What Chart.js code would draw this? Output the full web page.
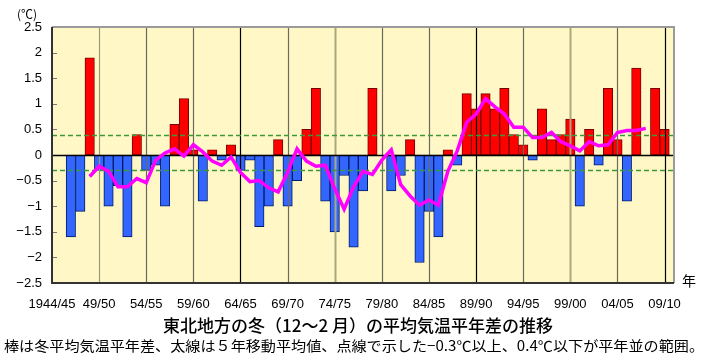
<!DOCTYPE html>
<html><head><meta charset="utf-8">
<script src="https://cdn.jsdelivr.net/npm/chart.js@4.4.0/dist/chart.umd.min.js"></script>
<style>html,body{margin:0;padding:0;background:#fff}#wrap{width:710px;height:360px;position:relative}</style>
</head><body><div id="wrap"><canvas id="c" width="710" height="360"></canvas></div>
<script>
// Winter seasons (Dec-Feb), category axis
const seasons = [
 "1944/45","1945/46","1946/47","1947/48","1948/49","1949/50","1950/51","1951/52","1952/53","1953/54",
 "1954/55","1955/56","1956/57","1957/58","1958/59","1959/60","1960/61","1961/62","1962/63","1963/64",
 "1964/65","1965/66","1966/67","1967/68","1968/69","1969/70","1970/71","1971/72","1972/73","1973/74",
 "1974/75","1975/76","1976/77","1977/78","1978/79","1979/80","1980/81","1981/82","1982/83","1983/84",
 "1984/85","1985/86","1986/87","1987/88","1988/89","1989/90","1990/91","1991/92","1992/93","1993/94",
 "1994/95","1995/96","1996/97","1997/98","1998/99","1999/00","2000/01","2001/02","2002/03","2003/04",
 "2004/05","2005/06","2006/07","2007/08","2008/09","2009/10","2010/11"
];
// Winter mean temperature anomaly (°C)
const anomaly = [
 null, null, -1.6, -1.1, 1.9, -0.3, -1.0, -0.6, -1.6, 0.4,
 -0.3, -0.2, -1.0, 0.6, 1.1, 0.1, -0.9, 0.1, -0.1, 0.2,
 -0.3, -0.1, -1.4, -1.0, 0.3, -1.0, -0.5, 0.5, 1.3, -0.9,
 -1.5, -0.4, -1.8, -0.7, 1.3, 0.0, -0.7, -0.4, 0.3, -2.1,
 -1.1, -1.6, 0.1, -0.2, 1.2, 0.9, 1.2, 0.9, 1.3, 0.4,
 0.2, -0.1, 0.9, 0.3, 0.4, 0.7, -1.0, 0.5, -0.2, 1.3,
 0.3, -0.9, 1.7, 0.0, 1.3, 0.5, null
];
// 5-year moving average (thick line)
const movingAvg5 = [
 null, null, null, null, -0.42, -0.22, -0.32, -0.62, -0.62, -0.46,
 -0.54, -0.10, 0.04, 0.12, -0.02, 0.20, 0.06, -0.12, -0.20, -0.04,
 -0.34, -0.52, -0.50, -0.64, -0.72, -0.34, 0.12, -0.12, -0.22, -0.20,
 -0.66, -1.06, -0.62, -0.32, -0.38, -0.10, 0.10, -0.58, -0.80, -0.98,
 -0.88, -0.98, -0.32, 0.08, 0.64, 0.80, 1.10, 0.94, 0.80, 0.54,
 0.54, 0.34, 0.34, 0.44, 0.26, 0.18, 0.08, 0.26, 0.18, 0.20,
 0.44, 0.48, 0.48, 0.52, null, null, null
];
const normalRange = [-0.3, 0.4];
const yTickValues = [2.5, 2, 1.5, 1, 0.5, 0, -0.5, -1, -1.5, -2, -2.5];
const labelStep = 5;
const titleText = "東北地方の冬（12～2 月）の平均気温平年差の推移";
const noteText = "棒は冬平均気温平年差、太線は５年移動平均値、点線で示した−0.3℃以上、0.4℃以下が平年並の範囲。";
const unitText = "(℃)";
const yearText = "年";

const gridStyle = function(i){
  if (i === 20 || i === 45 || i === 65) return ['#000000', 1.2];
  if (i === 30 || i === 55) return ['#a9a97f', 2];
  if (i === 5) return ['#9a9a7a', 1.2];
  return ['#6a6a60', 1.2];
};

const plotDeco = {
  id: 'plotDeco',
  beforeDraw(chart){
    const {ctx, chartArea:a} = chart;
    ctx.save();
    ctx.fillStyle = '#ffffff';
    ctx.fillRect(0,0,chart.width,chart.height);
    ctx.fillStyle = '#fff8c6';
    ctx.fillRect(a.left, a.top, a.right-a.left, a.bottom-a.top);
    ctx.restore();
  },
  afterDatasetDraw(chart, args){
    if (args.index !== 0) return;
    const {ctx, chartArea:a, scales:{x, y}} = chart;
    ctx.save();
    for (let i = labelStep; i < seasons.length; i += labelStep) {
      const px = Math.round(x.getPixelForValue(i)) + 0.5;
      const [col, w] = gridStyle(i);
      ctx.strokeStyle = col; ctx.lineWidth = w;
      ctx.beginPath(); ctx.moveTo(px, a.top); ctx.lineTo(px, a.bottom); ctx.stroke();
    }
    ctx.strokeStyle = '#777'; ctx.lineWidth = 1;
    yTickValues.forEach(v => {
      const py = Math.round(y.getPixelForValue(v)) + 0.5;
      ctx.beginPath(); ctx.moveTo(a.left, py); ctx.lineTo(a.left + 5, py); ctx.stroke();
    });
    ctx.strokeStyle = '#3a9a3a'; ctx.lineWidth = 1.3; ctx.setLineDash([5,3]);
    normalRange.forEach(v => {
      const py = Math.round(y.getPixelForValue(v)) + 0.5;
      ctx.beginPath(); ctx.moveTo(a.left, py); ctx.lineTo(a.right, py); ctx.stroke();
    });
    ctx.setLineDash([]);
    const pz = Math.round(y.getPixelForValue(0)) + 0.5;
    ctx.strokeStyle = '#000'; ctx.lineWidth = 1.5;
    ctx.beginPath(); ctx.moveTo(a.left, pz); ctx.lineTo(a.right, pz); ctx.stroke();
    ctx.restore();
  },
  afterDraw(chart){
    const {ctx, chartArea:a} = chart;
    ctx.save();
    ctx.lineWidth = 2;
    ctx.strokeStyle = '#9a9a9a';
    ctx.beginPath(); ctx.moveTo(a.left, a.top); ctx.lineTo(a.right, a.top); ctx.lineTo(a.right, a.bottom); ctx.stroke();
    ctx.strokeStyle = '#333333';
    ctx.beginPath(); ctx.moveTo(a.left, a.top); ctx.lineTo(a.left, a.bottom); ctx.lineTo(a.right, a.bottom); ctx.stroke();
    ctx.fillStyle = '#000';
    ctx.textBaseline = 'middle';
    ctx.textAlign = 'center';
    ctx.font = '12px "Noto Sans CJK JP", "Liberation Sans", sans-serif';
    ctx.fillText(unitText, 27, 14);
    ctx.font = '14px "Noto Sans CJK JP", sans-serif';
    ctx.fillText(yearText, 689, 281);
    ctx.font = '500 17px "Noto Sans CJK JP", sans-serif';
    ctx.fillText(titleText, 358, 326);
    ctx.font = '14px "Noto Sans CJK JP", sans-serif';
    const w = ctx.measureText(noteText).width;
    const target = 700;
    ctx.save();
    ctx.translate(354, 346);
    ctx.scale(target / w, 1);
    ctx.fillText(noteText, 0, 0);
    ctx.restore();
    ctx.restore();
  }
};

new Chart(document.getElementById('c'), {
  data: {
    labels: seasons,
    datasets: [
      {
        type: 'bar',
        data: anomaly,
        order: 1,
        backgroundColor: c => (c.raw >= 0 ? '#ff0000' : '#3366ff'),
        borderColor: c => (c.raw >= 0 ? '#7a0000' : '#001a66'),
        borderWidth: 1,
        borderSkipped: false,
        barPercentage: 1,
        categoryPercentage: 1
      },
      {
        type: 'line',
        data: movingAvg5,
        order: 0,
        borderColor: '#ff00ff',
        borderWidth: 3.5,
        pointRadius: 0,
        tension: 0,
        fill: false,
        spanGaps: false
      }
    ]
  },
  options: {
    responsive: false,
    devicePixelRatio: 1,
    animation: false,
    layout: { padding: { top: 27, right: 36, left: 0, bottom: 0 } },
    plugins: { legend: { display: false }, tooltip: { enabled: false }, title: { display: false } },
    scales: {
      x: {
        type: 'category',
        offset: false,
        grid: { display: false, offset: false, drawTicks: false },
        border: { display: false },
        ticks: {
          autoSkip: false, maxRotation: 0, minRotation: 0, padding: 14,
          color: '#000',
          font: { family: '"Liberation Sans", Arial, sans-serif', size: 13 },
          callback: function(v, i){
            if (i % labelStep !== 0) return '';
            const s = seasons[i];
            return i === 0 ? s : s.slice(2);
          }
        },
        afterFit: s => { s.height = 77; }
      },
      y: {
        min: -2.5, max: 2.5,
        grid: { display: false, drawTicks: false },
        border: { display: false },
        afterBuildTicks: s => { s.ticks = yTickValues.map(v => ({ value: v })); },
        ticks: {
          padding: 10, color: '#000',
          font: { family: '"Liberation Sans", Arial, sans-serif', size: 13 },
          callback: v => (v < 0 ? '−' + Math.abs(v) : String(v))
        },
        afterFit: s => { s.width = 52; }
      }
    }
  },
  plugins: [plotDeco]
});
</script>
</body></html>
